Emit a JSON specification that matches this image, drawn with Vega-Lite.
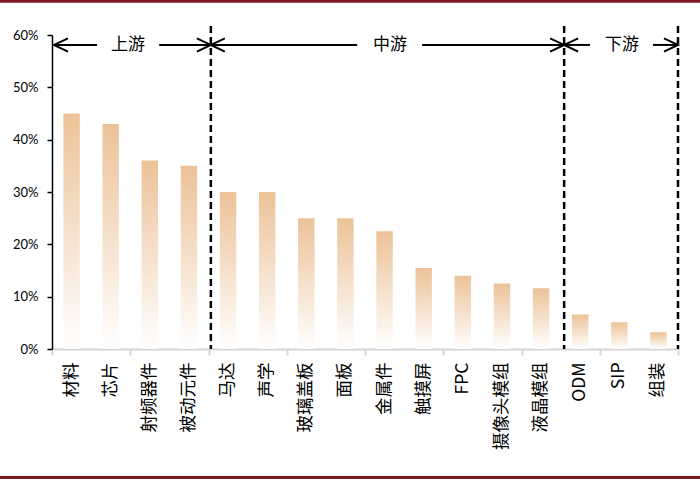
{
  "$schema": "https://vega.github.io/schema/vega-lite/v6.json",
  "width": 626,
  "height": 314,
  "autosize": {"type": "none"},
  "padding": {"left": 52, "top": 35, "right": 22, "bottom": 133},
  "background": "white",
  "config": {"view": {"stroke": null}},
  "datasets": {
    "bars": [
      {"cat": "材料", "v": 0.45},
      {"cat": "芯片", "v": 0.43},
      {"cat": "射频器件", "v": 0.36},
      {"cat": "被动元件", "v": 0.35},
      {"cat": "马达", "v": 0.30},
      {"cat": "声学", "v": 0.30},
      {"cat": "玻璃盖板", "v": 0.25},
      {"cat": "面板", "v": 0.25},
      {"cat": "金属件", "v": 0.225},
      {"cat": "触摸屏", "v": 0.155},
      {"cat": "FPC", "v": 0.14},
      {"cat": "摄像头模组", "v": 0.125},
      {"cat": "液晶模组", "v": 0.116},
      {"cat": "ODM", "v": 0.066},
      {"cat": "SIP", "v": 0.051},
      {"cat": "组装", "v": 0.032}
    ],
    "bounds": [{"b": 4.06}, {"b": 13.09}, {"b": 16}],
    "segs": [
      {"s": 0.05, "e": 1.15},
      {"s": 2.74, "e": 4.06},
      {"s": 4.06, "e": 7.8},
      {"s": 9.46, "e": 13.09},
      {"s": 13.09, "e": 13.75},
      {"s": 15.36, "e": 16}
    ],
    "heads": [
      {"p": 0.05, "dir": "L"},
      {"p": 4.06, "dir": "R"},
      {"p": 4.06, "dir": "L"},
      {"p": 13.09, "dir": "R"},
      {"p": 13.09, "dir": "L"},
      {"p": 16, "dir": "R"}
    ],
    "labels": [
      {"p": 1.94, "t": "上游"},
      {"p": 8.64, "t": "中游"},
      {"p": 14.57, "t": "下游"}
    ],
    "frame": [{"f": "top"}]
  },
  "layer": [
    {
      "data": {"name": "bars"},
      "mark": {
        "type": "bar",
        "color": {
          "gradient": "linear",
          "x1": 0, "y1": 0, "x2": 0, "y2": 1,
          "stops": [
            {"offset": 0, "color": "#ecc298"},
            {"offset": 1, "color": "#ffffff"}
          ]
        }
      },
      "encoding": {
        "x": {
          "field": "cat",
          "type": "nominal",
          "sort": null,
          "scale": {"paddingInner": 0.58, "paddingOuter": 0.29},
          "axis": {
            "orient": "bottom",
            "title": null,
            "domain": false,
            "ticks": false,
            "labelAngle": -90,
            "labelPadding": 13,
            "labelFont": "Noto Sans CJK SC",
            "labelFontSize": 17.5,
            "labelColor": "#000000",
            "labelLimit": 0
          }
        },
        "y": {
          "field": "v",
          "type": "quantitative",
          "scale": {"domain": [0, 0.6]},
          "axis": {
            "title": null,
            "values": [0, 0.1, 0.2, 0.3, 0.4, 0.5, 0.6],
            "format": ".0%",
            "grid": false,
            "domainColor": "#000000",
            "domainWidth": 1.5,
            "tickColor": "#000000",
            "tickWidth": 1.5,
            "tickSize": 5,
            "labelPadding": 9,
            "labelFont": "Lato",
            "labelFontSize": 13,
            "labelColor": "#000000"
          }
        }
      }
    },
    {
      "layer": [
        {
          "data": {"name": "bounds"},
          "mark": {"type": "rule", "strokeDash": [7, 4], "strokeWidth": 2.5, "color": "#000000"},
          "encoding": {
            "x": {
              "field": "b",
              "type": "quantitative",
              "scale": {"domain": [0, 16]},
              "axis": {
                "orient": "bottom",
                "title": null,
                "values": [0, 1, 2, 3, 4, 5, 6, 7, 8, 9, 10, 11, 12, 13, 14, 15, 16],
                "labels": false,
                "grid": false,
                "domainColor": "#d4d4d4",
                "domainWidth": 2,
                "tickColor": "#d4d4d4",
                "tickWidth": 2,
                "tickSize": 6
              }
            },
            "y": {"datum": 0.617, "type": "quantitative", "scale": {"domain": [0, 0.6]}},
            "y2": {"datum": 0}
          }
        },
        {
          "data": {"name": "segs"},
          "mark": {"type": "rule", "strokeWidth": 2, "color": "#000000"},
          "encoding": {
            "x": {"field": "s", "type": "quantitative", "scale": {"domain": [0, 16]}},
            "x2": {"field": "e"},
            "y": {"datum": 0.581, "type": "quantitative", "scale": {"domain": [0, 0.6]}}
          }
        },
        {
          "data": {"name": "heads"},
          "mark": {"type": "point", "filled": false, "strokeWidth": 2, "color": "#000000", "size": 196, "opacity": 1},
          "encoding": {
            "x": {"field": "p", "type": "quantitative", "scale": {"domain": [0, 16]}},
            "y": {"datum": 0.581, "type": "quantitative", "scale": {"domain": [0, 0.6]}},
            "shape": {
              "field": "dir",
              "type": "nominal",
              "scale": {"domain": ["L", "R"], "range": ["M2,-0.95L0,0L2,0.95", "M-2,-0.95L0,0L-2,0.95"]},
              "legend": null
            }
          }
        },
        {
          "data": {"name": "labels"},
          "mark": {"type": "text", "font": "Noto Sans CJK SC", "fontSize": 17, "color": "#000000", "baseline": "middle", "align": "center"},
          "encoding": {
            "x": {"field": "p", "type": "quantitative", "scale": {"domain": [0, 16]}},
            "y": {"datum": 0.581, "type": "quantitative", "scale": {"domain": [0, 0.6]}},
            "text": {"field": "t"}
          }
        },
        {
          "data": {"name": "frame"},
          "mark": {"type": "rule", "strokeWidth": 3, "color": "#7d1a1f"},
          "encoding": {
            "x": {"datum": -1.34, "type": "quantitative", "scale": {"domain": [0, 16]}},
            "x2": {"datum": 16.6},
            "y": {"datum": 0.6645, "type": "quantitative", "scale": {"domain": [0, 0.6]}}
          }
        },
        {
          "data": {"name": "frame"},
          "mark": {"type": "rule", "strokeWidth": 3, "color": "#7d1a1f"},
          "encoding": {
            "x": {"datum": -1.34, "type": "quantitative", "scale": {"domain": [0, 16]}},
            "x2": {"datum": 16.6},
            "y": {"datum": -0.2455, "type": "quantitative", "scale": {"domain": [0, 0.6]}}
          }
        }
      ]
    }
  ],
  "resolve": {"scale": {"x": "independent"}}
}
